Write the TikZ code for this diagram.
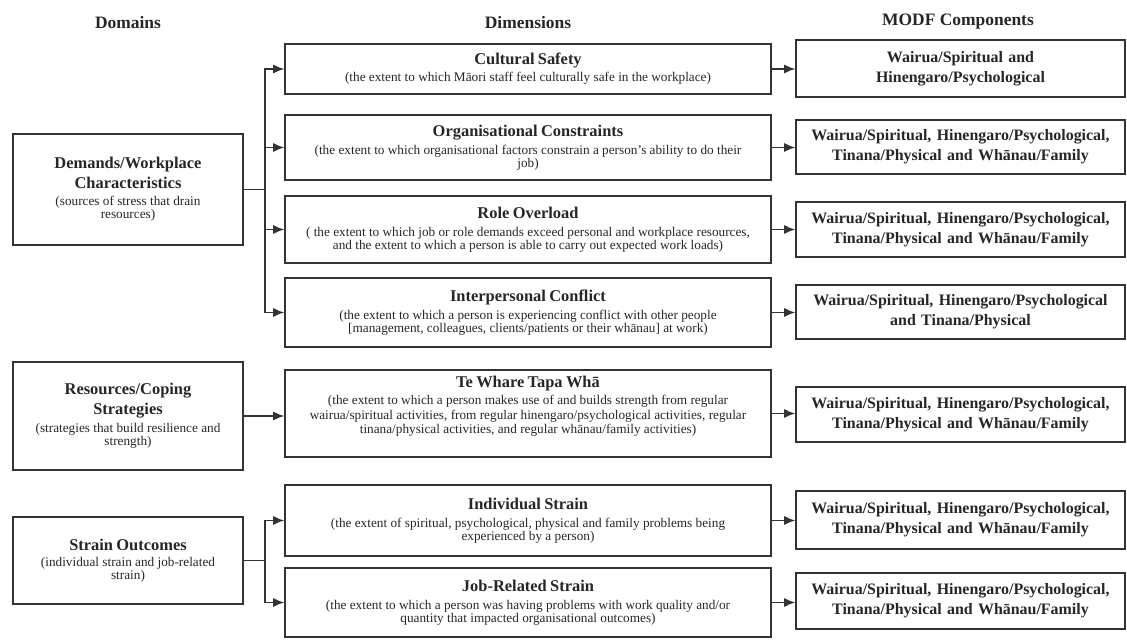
\documentclass[tikz,border=0pt]{standalone}
\usepackage{fontspec}
\setmainfont{Liberation Serif}
\usetikzlibrary{positioning,arrows.meta}
\newcommand{\boxtitle}{\fontsize{16.5}{20}\selectfont\bfseries}
\newcommand{\boxnote}{\fontsize{13.3}{15}\selectfont\mdseries}

\begin{document}
\begin{tikzpicture}
	[x=1bp,y=-1bp,
	bx/.style={rectangle,draw=black!80,line width=1.6bp,inner sep=0pt,align=center,text=black!85},
	dom/.style={bx,minimum width=230bp,text width=226bp},
	dim/.style={bx,minimum width=486bp,text width=484bp},
	comp/.style={bx,minimum width=329bp,text width=325bp,font=\fontsize{16}{20}\selectfont\bfseries},
	hd/.style={font=\fontsize{17.5}{20}\selectfont\bfseries,text=black!85},
	conn/.style={-{Latex[length=11bp,width=9bp]},line width=1.3bp,draw=black!80}]
	\useasboundingbox (0,0) rectangle (1127,644);
	%HEADERS
	\node[hd] (hdom) at (128,23) {Domains};
	\node[hd] (hdim) at (528,23) {Dimensions};
	\node[hd] (hcomp) at (958,22) {MODF Components};
	%DOMAINS
	\node[dom,minimum height=111bp] (dem) at (128,189.5) {\boxtitle Demands/Workplace\\ Characteristics\\[2bp]
		\boxnote (sources of stress that drain\\ resources)};
	\node[dom,minimum height=108bp] (res) at (128,416) {\boxtitle Resources/Coping\\ Strategies\\[3bp]
		\boxnote (strategies that build resilience and\\ strength)};
	\node[dom,minimum height=87bp] (str) at (128,560.5) {\boxtitle Strain Outcomes\\[1bp]
		\boxnote (individual strain and job-related\\ strain)};
	%DIMENSIONS
	\node[dim,minimum height=50bp] (d1) at (528,69) {\boxtitle Cultural Safety\\[3bp]
		\boxnote (the extent to which Māori staff feel culturally safe in the workplace)};
	\node[dim,minimum height=65bp] (d2) at (528,147.5) {\boxtitle Organisational Constraints\\[3bp]
		\boxnote (the extent to which organisational factors constrain a person’s ability to do their\\ job)};
	\node[dim,minimum height=67bp] (d3) at (528,229.5) {\boxtitle Role Overload\\[3bp]
		\boxnote ( the extent to which job or role demands exceed personal and workplace resources,\\ and the extent to which a person is able to carry out expected work loads)};
	\node[dim,minimum height=69bp] (d4) at (528,312.5) {\boxtitle Interpersonal Conflict\\[3bp]
		\boxnote (the extent to which a person is experiencing conflict with other people\\ {[}management, colleagues, clients/patients or their whānau{]} at work)};
	\node[dim,minimum height=87bp,text height=17bp,text depth=70bp] (d5) at (528,413.5) {\boxtitle Te Whare Tapa Whā\\[3bp]
		\boxnote (the extent to which a person makes use of and builds strength from regular\\ wairua/spiritual activities, from regular hinengaro/psychological activities, regular\\ tinana/physical activities, and regular whānau/family activities)};
	\node[dim,minimum height=71bp] (d6) at (528,520.5) {\boxtitle Individual Strain\\[3bp]
		\boxnote (the extent of spiritual, psychological, physical and family problems being\\ experienced by a person)};
	\node[dim,minimum height=69bp] (d7) at (528,602.5) {\boxtitle Job-Related Strain\\[3bp]
		\boxnote (the extent to which a person was having problems with work quality and/or\\ quantity that impacted organisational outcomes)};
	%MODF COMPONENTS
	\node[comp,minimum height=57bp] (m1) at (960.5,68.5) {Wairua/Spiritual and\\ Hinengaro/Psychological};
	\node[comp,minimum height=54bp] (m2) at (960.5,147) {Wairua/Spiritual, Hinengaro/Psychological,\\ Tinana/Physical and Whānau/Family};
	\node[comp,minimum height=55bp] (m3) at (960.5,229.5) {Wairua/Spiritual, Hinengaro/Psychological,\\ Tinana/Physical and Whānau/Family};
	\node[comp,minimum height=54bp] (m4) at (960.5,312) {Wairua/Spiritual, Hinengaro/Psychological\\ and Tinana/Physical};
	\node[comp,minimum height=55bp] (m5) at (960.5,414.5) {Wairua/Spiritual, Hinengaro/Psychological,\\ Tinana/Physical and Whānau/Family};
	\node[comp,minimum height=58bp] (m6) at (960.5,520) {Wairua/Spiritual, Hinengaro/Psychological,\\ Tinana/Physical and Whānau/Family};
	\node[comp,minimum height=56bp] (m7) at (960.5,601) {Wairua/Spiritual, Hinengaro/Psychological,\\ Tinana/Physical and Whānau/Family};
	%ARROWS
	\coordinate (jdem) at (265,189.5);
	\coordinate (jstr) at (265,560.5);
	\foreach \x in {1,...,4}
	\draw[conn] (dem.east) -- (jdem) |- (d\x.west);
	\draw[conn] (res.east) -- (res.east -| d5.west);
	\foreach \x in {6,7}
	\draw[conn] (str.east) -- (jstr) |- (d\x.west);
	\foreach \x in {1,...,7}
	\draw[conn] (d\x.east) -- (d\x.east -| m\x.west);
\end{tikzpicture}
\end{document}
